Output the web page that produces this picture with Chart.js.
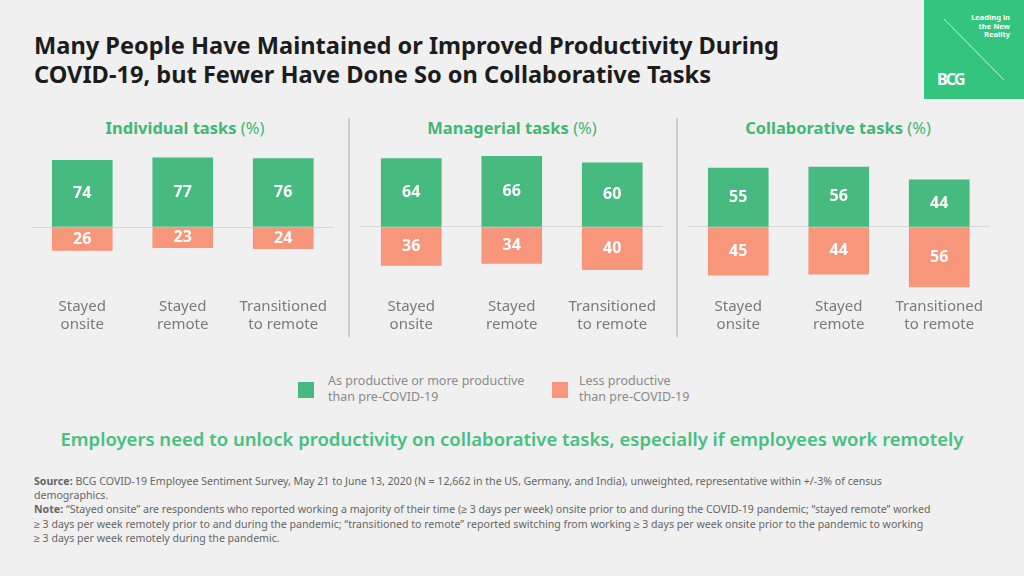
<!DOCTYPE html>
<html>
<head>
<meta charset="utf-8">
<script src="https://cdn.jsdelivr.net/npm/chart.js@4.4.0/dist/chart.umd.min.js"></script>
<style>
  body { margin: 0; width: 1024px; height: 576px; background: #f0f0f0; font-family: "Noto Sans", sans-serif; position: relative; overflow: hidden; }
  .abs { position: absolute; }
  #title { left: 34px; top: 31px; font-size: 23.6px; font-weight: 700; color: #1c1c1c; line-height: 29px; }
  .ptitle { top: 116px; width: 300px; text-align: center; font-size: 16.5px; font-weight: 700; color: #3fb874; }
  .ptitle span { font-weight: 400; }
  .divider { top: 118px; width: 2px; height: 219px; background: #cdcdcd; }
  .chart { top: 140px; height: 200px; }
  .sq { width: 16px; height: 16px; }
  .leg { font-size: 12.5px; color: #8a8a8a; line-height: 16px; }
  #msg { left: 0; width: 1024px; top: 426px; text-align: center; font-size: 18.5px; font-weight: 600; color: #45c07f; }
  #foot { left: 34px; top: 474px; width: 980px; font-size: 10.6px; color: #666; line-height: 14.2px; }
  #logo { left: 924px; top: 0; width: 100px; height: 99px; background: #33c47d; }
</style>
</head>
<body>
<div id="title" class="abs">Many People Have Maintained or Improved Productivity During<br>COVID-19, but Fewer Have Done So on Collaborative Tasks</div>

<div id="logo" class="abs">
  <svg width="100" height="99" style="position:absolute;left:0;top:0">
    <line x1="20" y1="19" x2="80" y2="80" stroke="#c9f0da" stroke-width="1"/>
    <text x="86" y="20" fill="#fff" font-size="7.5" font-weight="700" text-anchor="end" font-family="Noto Sans">Leading in</text>
    <text x="86" y="28.5" fill="#fff" font-size="7.5" font-weight="700" text-anchor="end" font-family="Noto Sans">the New</text>
    <text x="86" y="37" fill="#fff" font-size="7.5" font-weight="700" text-anchor="end" font-family="Noto Sans">Reality</text>
    <text x="13" y="85" fill="#fff" font-size="16" font-weight="700" letter-spacing="-1.8" font-family="Noto Sans">BCG</text>
  </svg>
</div>

<div class="abs ptitle" style="left:35px">Individual tasks <span>(%)</span></div>
<div class="abs ptitle" style="left:362px">Managerial tasks <span>(%)</span></div>
<div class="abs ptitle" style="left:688px">Collaborative tasks <span>(%)</span></div>

<div class="abs divider" style="left:348px"></div>
<div class="abs divider" style="left:676px"></div>

<div class="abs chart" style="left:32px;width:303px"><canvas id="c1"></canvas></div>
<div class="abs chart" style="left:361px;width:303px"><canvas id="c2"></canvas></div>
<div class="abs chart" style="left:688px;width:303px"><canvas id="c3"></canvas></div>

<div class="abs sq" style="left:298px;top:382px;background:#47ba7f"></div>
<div class="abs leg" style="left:328px;top:373px">As productive or more productive<br>than pre-COVID-19</div>
<div class="abs sq" style="left:552px;top:382px;background:#f7967a"></div>
<div class="abs leg" style="left:579px;top:373px">Less productive<br>than pre-COVID-19</div>

<div id="msg" class="abs">Employers need to unlock productivity on collaborative tasks, especially if employees work remotely</div>

<div id="foot" class="abs"><b>Source:</b> BCG COVID-19 Employee Sentiment Survey, May 21 to June 13, 2020 (N = 12,662 in the US, Germany, and India), unweighted, representative within +/-3% of census<br>demographics.<br><b>Note:</b> “Stayed onsite” are respondents who reported working a majority of their time (≥ 3 days per week) onsite prior to and during the COVID-19 pandemic; “stayed remote” worked<br>≥ 3 days per week remotely prior to and during the pandemic; “transitioned to remote” reported switching from working ≥ 3 days per week onsite prior to the pandemic to working<br>≥ 3 days per week remotely during the pandemic.</div>

<script>
// data
const categories = [['Stayed', 'onsite'], ['Stayed', 'remote'], ['Transitioned', 'to remote']];
const individualMore = [74, 77, 76];
const individualLess = [26, 23, 24];
const managerialMore = [64, 66, 60];
const managerialLess = [36, 34, 40];
const collabMore = [55, 56, 44];
const collabLess = [45, 44, 56];

const GREEN = '#47ba7f';
const ORANGE = '#f7967a';

// white numbers in the middle of each bar
const valueLabels = {
    id: 'valueLabels',
    afterDatasetsDraw(chart) {
        const ctx = chart.ctx;
        ctx.save();
        ctx.fillStyle = '#fff';
        ctx.font = 'bold 16px "Noto Sans"';
        ctx.textAlign = 'center';
        ctx.textBaseline = 'middle';
        chart.data.datasets.forEach((ds, i) => {
            chart.getDatasetMeta(i).data.forEach((bar, j) => {
                const p = bar.getCenterPoint();
                ctx.fillText(Math.abs(ds.data[j]), p.x, p.y);
            });
        });
        ctx.restore();
    }
};

function makeChart(id, more, less, yMin, yMax) {
    new Chart(document.getElementById(id), {
        type: 'bar',
        data: {
            labels: categories,
            datasets: [
                { label: 'As productive or more productive than pre-COVID-19', data: more, backgroundColor: GREEN, barThickness: 60 },
                { label: 'Less productive than pre-COVID-19', data: less.map(v => -v), backgroundColor: ORANGE, barThickness: 60 }
            ]
        },
        options: {
            responsive: true,
            maintainAspectRatio: false,
            animation: false,
            layout: { padding: 0 },
            plugins: { legend: { display: false }, tooltip: { enabled: false } },
            scales: {
                x: {
                    stacked: true,
                    grid: { display: false, drawTicks: false },
                    border: { display: false },
                    ticks: {
                        color: '#7a7a7a',
                        font: { size: 15, family: 'Noto Sans', lineHeight: 1.2 },
                        padding: 8,
                        maxRotation: 0,
                        autoSkip: false
                    },
                    afterFit: s => { s.height = 50; }
                },
                y: {
                    stacked: true,
                    min: yMin,
                    max: yMax,
                    ticks: { display: false },
                    border: { display: false },
                    grid: { drawTicks: false, color: '#d6d6d6' },
                    // only the zero line
                    afterBuildTicks: s => { s.ticks = [{ value: 0 }]; },
                    afterFit: s => { s.width = 0; }
                }
            }
        },
        plugins: [valueLabels]
    });
}

makeChart('c1', individualMore, individualLess, -70, 96.7);
makeChart('c2', managerialMore, managerialLess, -58.9, 81.3);
makeChart('c3', collabMore, collabLess, -58.9, 81.3);
</script>
</body>
</html>
